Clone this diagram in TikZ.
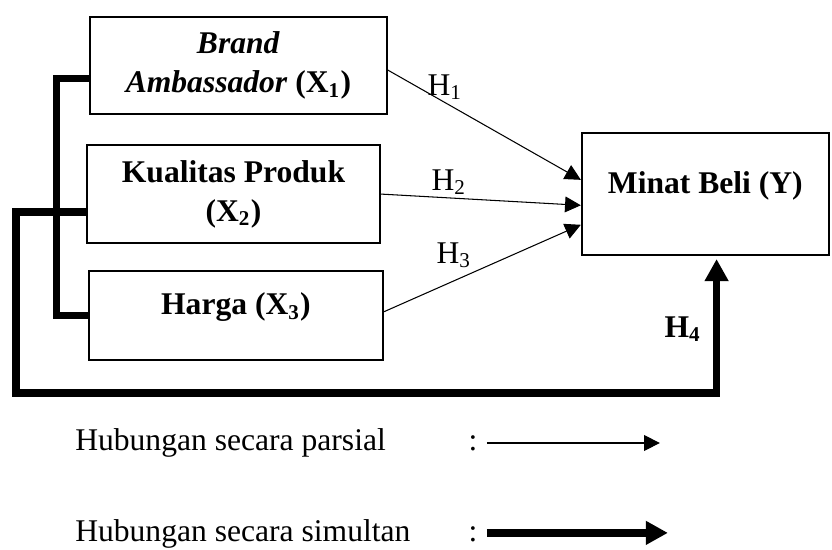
\documentclass[tikz,border=0pt]{standalone}
\usepackage{fontspec}
\setmainfont{Liberation Serif}
\usetikzlibrary{arrows.meta}

\begin{document}
\begin{tikzpicture}[
    every node/.style={font=\fontsize{12}{14.8}\selectfont},
    var/.style={draw, line width=0.75pt, align=center, inner sep=0pt},
    parsial/.style={line width=0.4pt, -{Triangle[length=6pt, width=6pt]}},
    simultan/.style={line width=2.8pt, -{Triangle[length=8.4pt, width=8.6pt]}},
    bracket/.style={line width=2.8pt}
  ]
  \useasboundingbox (0, 0) rectangle (11.107, 7.329);

  \node [var, minimum width=3.964cm, minimum height=1.295cm] (brand) at (3.183, 6.453)
    {\textbf{\textit{Brand}}\\\textbf{\textit{Ambassador}} \textbf{(X\textsubscript{1})}};
  \node [var, minimum width=3.911cm, minimum height=1.308cm] (kualitas) at (3.117, 4.738)
    {\textbf{Kualitas Produk}\\\textbf{(X\textsubscript{2})}};
  \node [var, minimum width=3.924cm, minimum height=1.188cm, text height=8pt, text depth=8.4pt] (harga) at (3.150, 3.117)
    {\textbf{Harga (X\textsubscript{3})}};
  \node [var, minimum width=3.297cm, minimum height=1.628cm, text height=8pt, text depth=8.8pt] (minat) at (9.416, 4.738)
    {\textbf{Minat Beli (Y)}};

  \draw [parsial] ([yshift=-0.06cm]brand.east) -- ([yshift=0.19cm]minat.west);
  \draw [parsial] (kualitas.east) -- ([yshift=-0.15cm]minat.west);
  \draw [parsial] ([yshift=0.05cm]harga.east) -- ([yshift=-0.41cm]minat.west);
  \node [anchor=base] (h1) at (5.939, 6.060) {H\textsubscript{1}};
  \node [anchor=base] (h2) at (5.993, 4.792) {H\textsubscript{2}};
  \node [anchor=base] (h3) at (6.060, 3.817) {H\textsubscript{3}};

  % simultan
  \draw [bracket] ([yshift=-0.17cm]brand.west) -- ++(-0.43, 0) |- (harga.west);
  \coordinate (base) at (0.214, 2.082);
  \draw [simultan] ([yshift=-0.24cm]kualitas.west) -| (base) -| ([xshift=0.15cm, yshift=-0.04cm]minat.south);
  \node [anchor=base] (h4) at (9.116, 2.830) {\textbf{H\textsubscript{4}}};

  % keterangan
  \node [anchor=base west] (ketparsial) at (0.881, 1.321) {Hubungan secara parsial};
  \node [anchor=base] (titik1) at (6.313, 1.321) {:};
  \coordinate (p1) at (6.500, 1.415);
  \coordinate (p2) at (8.809, 1.415);
  \draw [parsial] (p1) -- (p2);
  \node [anchor=base west] (ketsimultan) at (0.881, 0.100) {Hubungan secara simultan};
  \node [anchor=base] (titik2) at (6.313, 0.100) {:};
  \coordinate (s1) at (6.500, 0.215);
  \coordinate (s2) at (8.916, 0.215);
  \draw [simultan] (s1) -- (s2);
\end{tikzpicture}
\end{document}
